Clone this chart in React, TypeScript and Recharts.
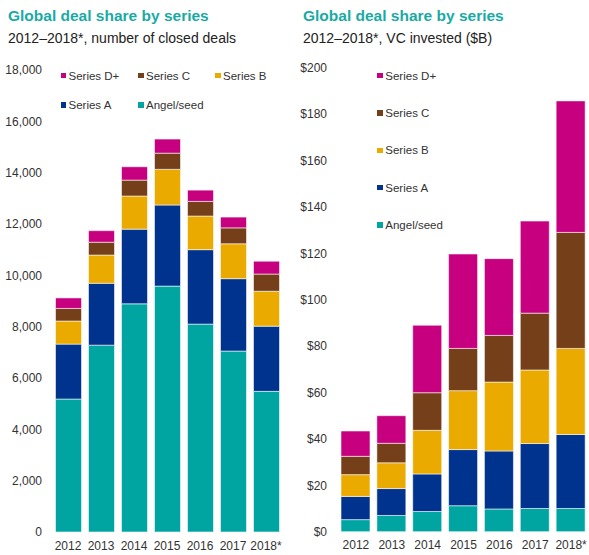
import React from "react";
import { BarChart, Bar, XAxis, YAxis } from "recharts";

// Years on the category axis
const years = ["2012", "2013", "2014", "2015", "2016", "2017", "2018*"];

// Number of closed deals, by stage
const dealsAngel = [5180, 7280, 8890, 9580, 8100, 7050, 5480];
const dealsA = [2140, 2410, 2910, 3160, 2900, 2820, 2540];
const dealsB = [900, 1100, 1290, 1390, 1310, 1360, 1360];
const dealsC = [490, 500, 620, 630, 570, 620, 670];
const dealsD = [410, 450, 520, 550, 440, 420, 500];

// VC invested ($B), by stage
const vcAngel = [5.2, 7.0, 8.7, 11.2, 9.8, 10.0, 10.0];
const vcA = [10.0, 11.6, 16.2, 24.2, 25.0, 28.0, 31.9];
const vcB = [9.4, 11.1, 18.8, 25.4, 29.7, 31.7, 37.1];
const vcC = [7.9, 8.4, 16.2, 18.2, 20.1, 24.5, 50.0];
const vcD = [10.9, 11.9, 29.1, 40.7, 33.1, 39.7, 56.7];

const dealTicks = [0, 2000, 4000, 6000, 8000, 10000, 12000, 14000, 16000, 18000];
const vcTicks = [0, 20, 40, 60, 80, 100, 120, 140, 160, 180, 200];

const seriesKeys = ["angel", "a", "b", "c", "d"];
const seriesNames = ["Angel/seed", "Series A", "Series B", "Series C", "Series D+"];
const seriesColors = ["#00A5A1", "#00338D", "#EAAA00", "#753F19", "#C6007E"];

const dealsRows = years.map((year, i) => ({
  year,
  angel: dealsAngel[i],
  a: dealsA[i],
  b: dealsB[i],
  c: dealsC[i],
  d: dealsD[i],
}));

const vcRows = years.map((year, i) => ({
  year,
  angel: vcAngel[i],
  a: vcA[i],
  b: vcB[i],
  c: vcC[i],
  d: vcD[i],
}));

const FONT = "Liberation Sans, Arial, sans-serif";
const TICK = { fill: "#333333", fontSize: 12, fontFamily: FONT };
const TEAL_TITLE = "#1AAAA4";

const Swatch = ({ color, name, x, y }: { color: string; name: string; x: number; y: number }) => (
  <div
    style={{
      position: "absolute",
      left: x,
      top: y,
      height: 14,
      lineHeight: "14px",
      display: "flex",
      alignItems: "center",
      fontFamily: FONT,
      fontSize: 11.5,
      color: "#333",
      whiteSpace: "nowrap",
    }}
  >
    <span style={{ width: 5.5, height: 5.5, background: color, marginRight: 2.5, display: "inline-block" }} />
    {name}
  </div>
);

// Legend laid out in two rows (deals chart)
const DealsLegend = () => {
  const order = [4, 3, 2, 1, 0];
  const pos = [
    [60.5, 68.7],
    [138, 68.7],
    [215, 68.7],
    [60.5, 98],
    [138, 98],
  ];
  return (
    <>
      {order.map((s, i) => (
        <Swatch key={s} color={seriesColors[s]} name={seriesNames[s]} x={pos[i][0]} y={pos[i][1]} />
      ))}
    </>
  );
};

// Legend stacked in one column (investment chart)
const VcLegend = () => {
  const order = [4, 3, 2, 1, 0];
  return (
    <>
      {order.map((s, i) => (
        <Swatch key={s} color={seriesColors[s]} name={seriesNames[s]} x={377.3} y={68.7 + i * 37.3} />
      ))}
    </>
  );
};

const Titles = ({ x, sub }: { x: number; sub: string }) => (
  <svg
    width={294}
    height={50}
    style={{ position: "absolute", left: x, top: 0, overflow: "visible" }}
  >
    <text x={0} y={20.5} fontFamily={FONT} fontSize={15.5} fontWeight="bold" fill={TEAL_TITLE}>
      Global deal share by series
    </text>
    <text x={0} y={42.5} fontFamily={FONT} fontSize={14} fill="#222">
      {sub}
    </text>
  </svg>
);

const stackBars = () =>
  seriesKeys.map((k, i) => (
    <Bar
      key={k}
      dataKey={k}
      name={seriesNames[i]}
      stackId="s"
      fill={seriesColors[i]}
      stroke="#ffffff"
      strokeOpacity={0.7}
      strokeWidth={0.8}
      isAnimationActive={false}
    />
  ));

export default function App() {
  return (
    <div style={{ position: "absolute", left: 0, top: 0, width: 589, height: 555, background: "#fff", overflow: "hidden" }}>
      <Titles x={8} sub="2012–2018*, number of closed deals" />
      <Titles x={302.5} sub="2012–2018*, VC invested ($B)" />

      <div style={{ position: "absolute", left: 0, top: 0 }}>
        <BarChart
          width={295}
          height={555}
          data={dealsRows}
          margin={{ top: 70, right: 12.5, bottom: 0, left: 0 }}
          barSize={26}
          barCategoryGap={0}
        >
          <XAxis
            dataKey="year"
            axisLine={false}
            tickLine={false}
            tickSize={0}
            tickMargin={9}
            height={23}
            tick={TICK}
            interval={0}
          />
          <YAxis
            width={51.5}
            domain={[0, 18000]}
            ticks={dealTicks}
            axisLine={false}
            tickLine={false}
            tickSize={0}
            tickMargin={9.5}
            tick={TICK}
            tickFormatter={(v: number) => v.toLocaleString("en-US")}
            interval={0}
          />
          {stackBars()}
        </BarChart>
      </div>

      <div style={{ position: "absolute", left: 295, top: 0 }}>
        <BarChart
          width={294}
          height={555}
          data={vcRows}
          margin={{ top: 67.7, right: 0, bottom: 0, left: 0 }}
          barSize={29}
          barCategoryGap={0}
        >
          <XAxis
            dataKey="year"
            axisLine={false}
            tickLine={false}
            tickSize={0}
            tickMargin={9}
            height={23.3}
            tick={TICK}
            interval={0}
          />
          <YAxis
            width={43}
            domain={[0, 200]}
            ticks={vcTicks}
            axisLine={false}
            tickLine={false}
            tickSize={0}
            tickMargin={11}
            tick={TICK}
            tickFormatter={(v: number) => `$${v}`}
            interval={0}
          />
          {stackBars()}
        </BarChart>
      </div>

      <DealsLegend />
      <VcLegend />
    </div>
  );
}
